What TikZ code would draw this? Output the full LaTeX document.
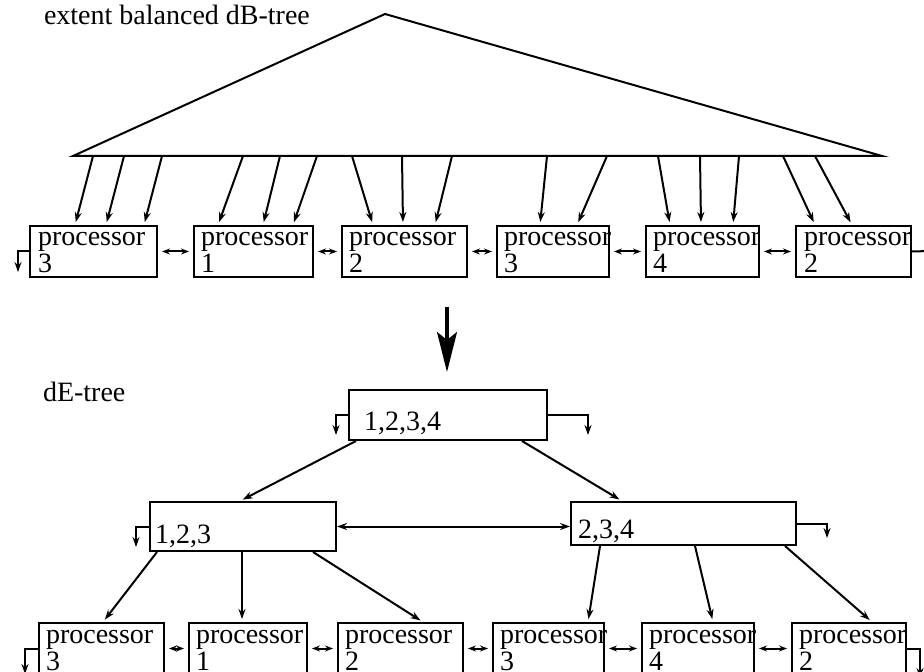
\documentclass[tikz,border=0pt]{standalone}
\usepackage{fontspec}
\setmainfont{Liberation Serif}
\usetikzlibrary{arrows.meta}
\begin{document}
\begin{tikzpicture}[x=0.5pt, y=-0.5pt, line width=1pt, >={Stealth[length=5pt,width=3.5pt]},
  proc/.style={draw, anchor=north west, minimum height=25.5pt, inner sep=0pt},
  inner/.style={draw, anchor=north west, inner sep=0pt},
  txt/.style={anchor=north west, inner sep=0pt, align=left, font=\fontsize{14}{13.5}\selectfont},
  lbl/.style={anchor=base west, inner sep=0pt, font=\fontsize{14}{16}\selectfont},
  ptr/.style={->, shorten >=1.5pt},
  link/.style={<->, >={Stealth[length=4pt,width=3pt]}, shorten <=2pt, shorten >=2pt}]
	\useasboundingbox (0,0) rectangle (924,672);
	\clip (0,0) rectangle (924,672);
	% titles
	\node[lbl] (t1) at (43,25) {extent balanced dB-tree};
	\node[lbl] (t2) at (42,402) {dE-tree};
	% dB-tree
	\coordinate (bl) at (73,156);
	\coordinate (br) at (882,156);
	\coordinate (apex) at (385,14);
	\draw (bl) -- (apex) -- (br) -- cycle;
	\node[proc, minimum width=63.5pt] (u1) at (29,225) {};
	\node[proc, minimum width=59.5pt] (u2) at (193,225) {};
	\node[proc, minimum width=62.5pt] (u3) at (341,225) {};
	\node[proc, minimum width=56pt] (u4) at (496,225) {};
	\node[proc, minimum width=56.5pt] (u5) at (645,225) {};
	\node[proc, minimum width=57.5pt] (u6) at (795,225) {};
	\node[txt] (u1t) at ([shift={(8,0)}]u1.north west) {\rule{0pt}{10pt}processor\\3};
	\node[txt] (u2t) at ([shift={(7,0)}]u2.north west) {\rule{0pt}{10pt}processor\\1};
	\node[txt] (u3t) at ([shift={(7,0)}]u3.north west) {\rule{0pt}{10pt}processor\\2};
	\node[txt] (u4t) at ([shift={(7,0)}]u4.north west) {\rule{0pt}{10pt}processor\\3};
	\node[txt] (u5t) at ([shift={(7,0)}]u5.north west) {\rule{0pt}{10pt}processor\\4};
	\node[txt] (u6t) at ([shift={(8,0)}]u6.north west) {\rule{0pt}{10pt}processor\\2};
	\coordinate (u0) at (18,272);
	\coordinate (u7) at (930,251);
	\path[ptr]
	(93,0 |- bl) edge (75,0 |- u1.north)
	(124,0 |- bl) edge (106,0 |- u1.north)
	(162,0 |- bl) edge (144,0 |- u1.north)
	(243,0 |- bl) edge (218,0 |- u2.north)
	(280,0 |- bl) edge (263,0 |- u2.north)
	(317,0 |- bl) edge (293,0 |- u2.north)
	(352,0 |- bl) edge (373,0 |- u3.north)
	(402,0 |- bl) edge (403,0 |- u3.north)
	(452,0 |- bl) edge (435,0 |- u3.north)
	(547,0 |- bl) edge (540,0 |- u4.north)
	(607,0 |- bl) edge (577,0 |- u4.north)
	(658,0 |- bl) edge (670,0 |- u5.north)
	(700,0 |- bl) edge (701,0 |- u5.north)
	(739,0 |- bl) edge (733,0 |- u5.north)
	(783,0 |- bl) edge (815,0 |- u6.north)
	(815,0 |- bl) edge (852,0 |- u6.north);
	\path[link]
	(u1) edge (u2)
	(u2) edge (u3)
	(u3) edge (u4)
	(u4) edge (u5)
	(u5) edge (u6);
	\draw[->] (u1.west) -| (u0);
	\draw (u6.east) -- (u7);
	% transformation
	\coordinate (a1) at (447,307);
	\coordinate (a2) at (447,372);
	\draw[line width=1.6pt, -{Stealth[length=20pt,width=10pt,inset=4pt]}] (a1) -- (a2);
	% dE-tree
	\node[inner, minimum width=99pt, minimum height=25pt] (rt) at (348,389) {};
	\node[inner, minimum width=93pt, minimum height=24.5pt] (ml) at (149,501) {};
	\node[inner, minimum width=112.5pt, minimum height=21.5pt] (mr) at (570,501) {};
	\node[lbl] (rtt) at (363,430) {1,2,3,4};
	\node[lbl] (mlt) at (154,543) {1,2,3};
	\node[lbl] (mrt) at (577,538) {2,3,4};
	\coordinate (r0) at (336,435);
	\coordinate (r1) at (588,435);
	\coordinate (m0) at (136,547);
	\coordinate (m1) at (827,538);
	\draw[->] (rt.west) -| (r0);
	\draw[->] (rt.east) -| (r1);
	\draw[->] (ml.west) -| (m0);
	\draw[->] (mr.east) -| (m1);
	\draw[<->] (ml.east) -- (ml.east -| mr.west);
	\node[proc, minimum width=62.5pt] (l1) at (38,622) {};
	\node[proc, minimum width=59pt] (l2) at (188,622) {};
	\node[proc, minimum width=62.5pt] (l3) at (337,622) {};
	\node[proc, minimum width=55.5pt] (l4) at (492,622) {};
	\node[proc, minimum width=56pt] (l5) at (641,622) {};
	\node[proc, minimum width=57pt] (l6) at (791,622) {};
	\node[txt] (l1t) at ([shift={(7,0)}]l1.north west) {\rule{0pt}{10pt}processor\\3};
	\node[txt] (l2t) at ([shift={(7,0)}]l2.north west) {\rule{0pt}{10pt}processor\\1};
	\node[txt] (l3t) at ([shift={(7,0)}]l3.north west) {\rule{0pt}{10pt}processor\\2};
	\node[txt] (l4t) at ([shift={(7,0)}]l4.north west) {\rule{0pt}{10pt}processor\\3};
	\node[txt] (l5t) at ([shift={(7,0)}]l5.north west) {\rule{0pt}{10pt}processor\\4};
	\node[txt] (l6t) at ([shift={(7,0)}]l6.north west) {\rule{0pt}{10pt}processor\\2};
	\coordinate (l0) at (25,674);
	\coordinate (l7) at (920,678);
	\path[ptr]
	(356,0 |- rt.south) edge (240,0 |- ml.north)
	(522,0 |- rt.south) edge (622,0 |- mr.north)
	(157,0 |- ml.south) edge (103,0 |- l1.north)
	(242,0 |- ml.south) edge (242,0 |- l2.north)
	(313,0 |- ml.south) edge (423,0 |- l3.north)
	(600,0 |- mr.south) edge (588,0 |- l4.north)
	(695,0 |- mr.south) edge (713,0 |- l5.north)
	(785,0 |- mr.south) edge (872,0 |- l6.north);
	\path[link]
	(l1) edge (l2)
	(l2) edge (l3)
	(l3) edge (l4)
	(l4) edge (l5)
	(l5) edge (l6);
	\draw[->] (l1.west) -| (l0);
	\draw[->] (l6.east) -| (l7);
\end{tikzpicture}
\end{document}
